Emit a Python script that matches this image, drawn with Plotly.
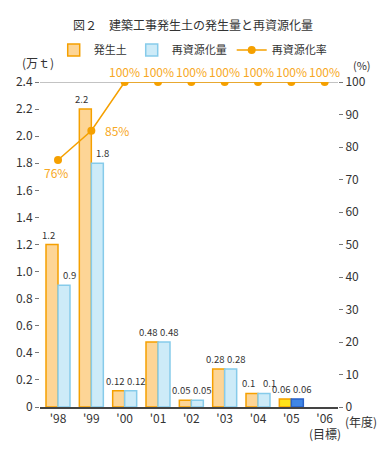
import plotly.graph_objects as go

years = ["'98", "'99", "'00", "'01", "'02", "'03", "'04", "'05", "'06"]
generated = [1.2, 2.2, 0.12, 0.48, 0.05, 0.28, 0.1, 0.06, None]
recycled = [0.9, 1.8, 0.12, 0.48, 0.05, 0.28, 0.1, 0.06, None]
rate = [76, 85, 100, 100, 100, 100, 100, 100, 100]
left_ticks = [0, 0.2, 0.4, 0.6, 0.8, 1.0, 1.2, 1.4, 1.6, 1.8, 2.0, 2.2, 2.4]
left_ticktext = ["0", "0.2", "0.4", "0.6", "0.8", "1.0", "1.2", "1.4", "1.6", "1.8", "2.0", "2.2", "2.4"]
right_ticks = [0, 10, 20, 30, 40, 50, 60, 70, 80, 90, 100]

FONT = "Noto Sans CJK JP"
ORANGE = "#F5A000"
TXT = "#333333"

def fmt(v):
    return "" if v is None else f"{v:g}"

gen_fill = ["#FDD596"] * 7 + ["#FFE31A", "#FDD596"]
rec_fill = ["#CDEBF8"] * 7 + ["#3F86E6", "#CDEBF8"]
rec_line = ["#86CBEA"] * 7 + ["#2A62C8", "#86CBEA"]

fig = go.Figure()
fig.add_trace(go.Bar(
    x=years, y=generated, name="発生土",
    marker=dict(color=gen_fill, line=dict(color=ORANGE, width=1.5)),
))
fig.add_trace(go.Bar(
    x=years, y=recycled, name="再資源化量",
    marker=dict(color=rec_fill, line=dict(color=rec_line, width=1.5)),
))
fig.add_trace(go.Scatter(
    x=years, y=rate, name="再資源化率", yaxis="y2",
    mode="lines+markers",
    line=dict(color=ORANGE, width=1.5),
    marker=dict(color=ORANGE, size=8),
))

fig.add_shape(type="line", xref="paper", yref="y", x0=0, x1=1, y0=2.4, y1=2.4,
              line=dict(color="#888888", width=1), layer="below")

annotations = []
# bar value labels
for yr, g, r in zip(years, generated, recycled):
    if g is not None:
        annotations.append(dict(x=yr, y=g, xref="x", yref="y", text=fmt(g), showarrow=False,
                                xanchor="center", yanchor="bottom", xshift=-10, yshift=1,
                                font=dict(size=9.5, color=TXT)))
    if r is not None:
        annotations.append(dict(x=yr, y=r, xref="x", yref="y", text=fmt(r), showarrow=False,
                                xanchor="center", yanchor="bottom", xshift=11, yshift=1,
                                font=dict(size=9.5, color=TXT)))
# rate labels
for i, (yr, v) in enumerate(zip(years, rate)):
    if i == 0:
        xa, xs, ys = "center", -2, -12
    elif i == 1:
        xa, xs, ys = "left", 12, 0
    else:
        xa, xs, ys = "center", 0, 11
    annotations.append(dict(x=yr, y=v, xref="x", yref="y2", text=f"{v}%", showarrow=False,
                            xanchor=xa, yanchor="middle", xshift=xs, yshift=ys,
                            font=dict(size=12, color="#F7A823")))

annotations += [
    dict(text="図２　建築工事発生土の発生量と再資源化量", xref="paper", yref="paper",
         x=(193 - 40) / 298, y=1.0 + 57 / 325, xanchor="center", yanchor="middle", showarrow=False,
         font=dict(size=12, color=TXT)),
    dict(text="(万ｔ)", xref="paper", yref="paper", x=-20 / 298, y=1 + 20 / 325,
         xanchor="left", yanchor="middle", showarrow=False, font=dict(size=12, color=TXT)),
    dict(text="(%)", xref="paper", yref="paper", x=1 + 13 / 298, y=1 + 17 / 325,
         xanchor="left", yanchor="middle", showarrow=False, font=dict(size=11, color=TXT)),
    dict(text="(年度)", xref="paper", yref="paper", x=1 + 5 / 298, y=-14 / 325,
         xanchor="left", yanchor="middle", showarrow=False, font=dict(size=12, color=TXT)),
    dict(text="(目標)", xref="paper", yref="paper", x=(325 - 40) / 298, y=-26 / 325,
         xanchor="center", yanchor="middle", showarrow=False, font=dict(size=12, color=TXT)),
]

fig.update_layout(
    width=381, height=451,
    margin=dict(l=40, r=43, t=82, b=44),
    paper_bgcolor="white", plot_bgcolor="white",
    font=dict(family=FONT, size=12, color=TXT),
    barmode="group", bargap=0.28, bargroupgap=0,
    showlegend=True,
    legend=dict(orientation="h", x=0.046, y=1 + 32 / 325, xanchor="left", yanchor="middle",
                font=dict(size=11, color=TXT), itemwidth=30, traceorder="normal",
                bgcolor="rgba(0,0,0,0)"),
    xaxis=dict(type="category", range=[-0.54, 8.4], showline=True, linecolor="#444444",
               linewidth=1.5, ticks="", showgrid=False, tickfont=dict(size=12, color=TXT)),
    yaxis=dict(range=[0, 2.4], tickvals=left_ticks, ticktext=left_ticktext, ticks="outside",
               ticklen=4, tickcolor="#777777", showgrid=False, zeroline=False, showline=False,
               tickfont=dict(size=12, color=TXT)),
    yaxis2=dict(range=[0, 100], tickvals=right_ticks, overlaying="y", side="right",
                ticks="outside", ticklen=4, tickcolor="#777777", showgrid=False,
                zeroline=False, showline=False, tickfont=dict(size=12, color=TXT)),
    annotations=annotations,
)

fig.write_html("out.html", config={"displayModeBar": False},
               post_script="document.body.style.margin='0';")
